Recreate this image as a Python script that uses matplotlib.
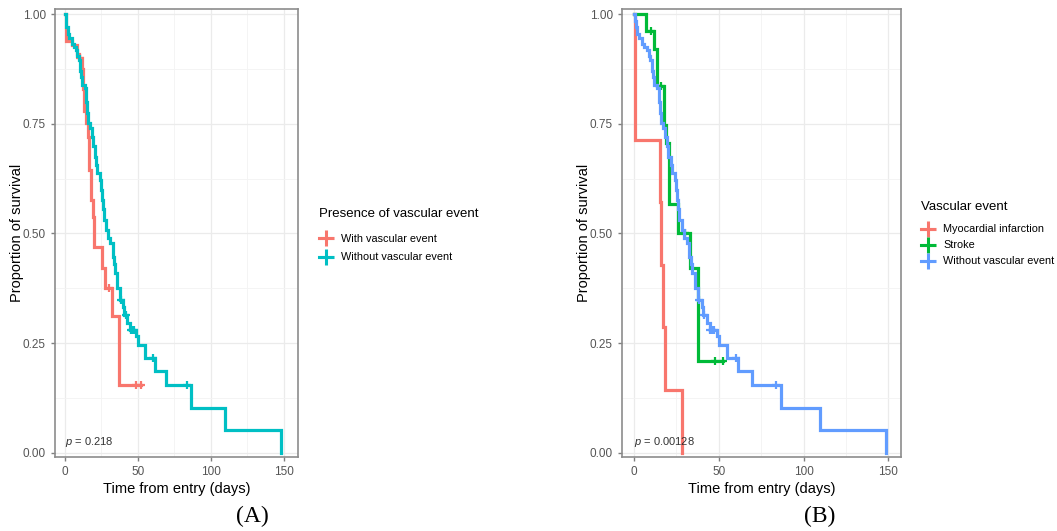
import numpy as np
import matplotlib
matplotlib.use("Agg")
import matplotlib.pyplot as plt
from matplotlib.lines import Line2D

plt.rcParams["font.family"] = ["Liberation Sans", "DejaVu Sans"]
plt.rcParams["mathtext.fontset"] = "custom"
plt.rcParams["mathtext.it"] = "Liberation Sans:italic"
plt.rcParams["mathtext.rm"] = "Liberation Sans"

# ---- data (step times in days, survival after the step) ----
# without vascular event (same group in both panels)
no_ev_t = [0, 0.5, 1, 2, 3, 4.5, 6, 7.5, 8.5, 9.5, 10.5, 11, 11.5, 13.5, 14.5, 15, 16, 17,
           18.3, 19.5, 20.3, 21.5, 22.2, 24.2, 25, 25.5, 26, 26.5, 28, 29.5, 31, 32.6, 33.5,
           34, 35.9, 37.9, 39.9, 40.8, 42.8, 44.8, 48.7, 50, 55, 61.5, 69.5, 86.4, 110, 148.5]
no_ev_s = [1.0, 0.985, 0.97, 0.955, 0.945, 0.933, 0.925, 0.918, 0.905, 0.895, 0.87, 0.857,
           0.838, 0.831, 0.80, 0.774, 0.751, 0.74, 0.72, 0.70, 0.675, 0.655, 0.637, 0.622,
           0.60, 0.577, 0.555, 0.531, 0.508, 0.49, 0.478, 0.447, 0.43, 0.409, 0.375, 0.349,
           0.333, 0.314, 0.295, 0.28, 0.265, 0.246, 0.216, 0.185, 0.155, 0.102, 0.051, 0.0]
no_ev_cens = [38.5, 41.5, 45, 46, 47, 60.3, 84]

# with vascular event (panel A)
with_ev_t = [0, 0.6, 5, 8, 9.5, 11.5, 12.5, 13, 14.2, 16.1, 16.6, 17.7, 19.5, 19.9, 25.7,
             27.3, 32.5, 36.8]
with_ev_s = [1.0, 0.94, 0.93, 0.91, 0.90, 0.876, 0.83, 0.78, 0.751, 0.72, 0.645, 0.576,
             0.538, 0.47, 0.421, 0.375, 0.311, 0.155]
with_ev_cens = [10.2, 30, 48.4, 52.3]

# myocardial infarction (panel B)
mi_t = [0, 0.6, 15, 16, 17.3, 18.3, 28]
mi_s = [1.0, 0.714, 0.571, 0.429, 0.286, 0.143, 0.0]
mi_cens = []

# stroke (panel B)
stroke_t = [0, 7.1, 11.8, 13.6, 17.5, 18.7, 20.7, 26.2, 33, 37.5]
stroke_s = [1.0, 0.961, 0.92, 0.836, 0.747, 0.706, 0.567, 0.5, 0.42, 0.208]
stroke_cens = [9.9, 15.8, 30.2, 48, 52.4]

p_a = "0.218"
p_b = "0.00128"

RED, CYAN = "#F8766D", "#00BFC4"
GREEN, BLUE = "#00BA38", "#619CFF"


def surv_at(times, levels, t):
    idx = np.searchsorted(times, t, side="right") - 1
    return np.asarray(levels)[idx]


def draw_curve(ax, times, levels, cens, color):
    t = list(times)
    s = list(levels)
    end = max(cens) if cens else t[-1]
    if end > t[-1]:
        t.append(end)
        s.append(s[-1])
    ax.step(t, s, where="post", color=color, lw=2.3, solid_joinstyle="miter", zorder=3)
    if cens:
        ax.plot(cens, surv_at(times, levels, cens), ls="none", marker="+", ms=6, mew=1.6,
                color=color, zorder=3)


def style_axes(ax, xlim, ptxt):
    ax.set_xlim(*xlim)
    ax.set_ylim(-0.01, 1.012)
    ax.set_xticks([0, 50, 100, 150])
    ax.set_xticks([25, 75, 125], minor=True)
    ax.set_yticks([0, 0.25, 0.5, 0.75, 1.0])
    ax.set_yticklabels(["0.00", "0.25", "0.50", "0.75", "1.00"])
    ax.set_yticks([0.125, 0.375, 0.625, 0.875], minor=True)
    ax.grid(True, which="major", color="#EBEBEB", lw=0.9, zorder=0)
    ax.grid(True, which="minor", color="#F3F3F3", lw=0.6, zorder=0)
    ax.tick_params(axis="both", which="major", labelsize=8.5, colors="#7F7F7F",
                   labelcolor="#555555", length=3, width=1)
    ax.tick_params(axis="both", which="minor", length=0)
    for sp in ax.spines.values():
        sp.set_color("#8C8C8C")
        sp.set_linewidth(1.2)
    ax.set_xlabel("Time from entry (days)", fontsize=10.5, labelpad=3)
    ax.set_ylabel("Proportion of survival", fontsize=10.5, labelpad=-1)
    ax.text(0, 0.025, "$p$ = " + ptxt, fontsize=8, color="#333333", va="center", ha="left")


fig = plt.figure(figsize=(10.57, 5.31), dpi=100)
ax_a = fig.add_axes([0.052, 0.1394, 0.2299, 0.8437])
ax_b = fig.add_axes([0.5882, 0.1394, 0.2642, 0.8437])

draw_curve(ax_a, with_ev_t, with_ev_s, with_ev_cens, RED)
draw_curve(ax_a, no_ev_t, no_ev_s, no_ev_cens, CYAN)
style_axes(ax_a, (-6.9, 159.8), p_a)

draw_curve(ax_b, mi_t, mi_s, mi_cens, RED)
draw_curve(ax_b, stroke_t, stroke_s, stroke_cens, GREEN)
draw_curve(ax_b, no_ev_t, no_ev_s, no_ev_cens, BLUE)
style_axes(ax_b, (-7.3, 157.5), p_b)


def key(color):
    return Line2D([0], [0], color=color, lw=2.2, marker="+", ms=11, mew=2.2)


leg_a = fig.legend([key(RED), key(CYAN)], ["With vascular event", "Without vascular event"],
                   title="Presence of vascular event", loc="upper left",
                   bbox_to_anchor=(315 / 1057, 1 - 204 / 531), frameon=False,
                   fontsize=7.8, title_fontsize=9.5, handlelength=1.2, handletextpad=0.8,
                   labelspacing=0.75, borderaxespad=0)
leg_a._legend_box.align = "left"
leg_a._legend_box.sep = 10

leg_b = fig.legend([key(RED), key(GREEN), key(BLUE)],
                   ["Myocardial infarction", "Stroke", "Without vascular event"],
                   title="Vascular event", loc="upper left",
                   bbox_to_anchor=(917 / 1057, 1 - 197 / 531), frameon=False,
                   fontsize=7.8, title_fontsize=9.5, handlelength=1.2, handletextpad=0.8,
                   labelspacing=0.55, borderaxespad=0)
leg_b._legend_box.align = "left"
leg_b._legend_box.sep = 8

fig.text(252 / 1057, 1 - 516 / 531, "(A)", family="Liberation Serif", fontsize=17,
         ha="center", va="center")
fig.text(820 / 1057, 1 - 516 / 531, "(B)", family="Liberation Serif", fontsize=17,
         ha="center", va="center")

fig.savefig("out.png", dpi=100)
